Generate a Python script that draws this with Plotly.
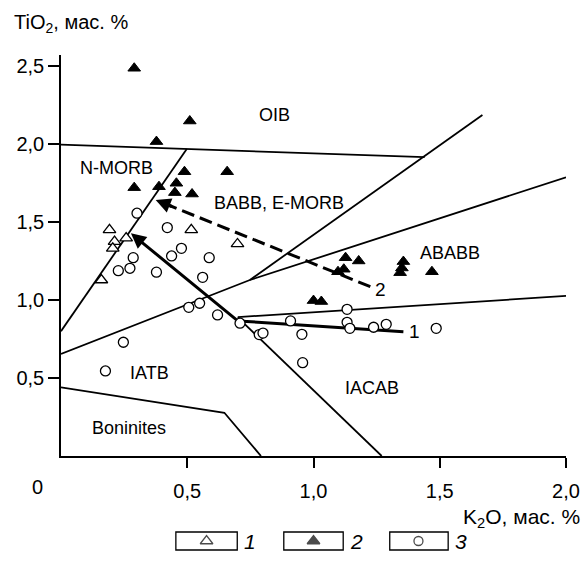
import plotly.graph_objects as go

# ---------------- data ----------------
# series 1: open triangles
s1_x = [0.192, 0.212, 0.205, 0.258, 0.160, 0.516, 0.699]
s1_y = [1.449, 1.374, 1.331, 1.396, 1.128, 1.449, 1.359]
# series 2: filled triangles
s2_x = [0.290, 0.378, 0.510, 0.290, 0.489, 0.658, 0.388, 0.457, 0.451, 0.519,
        1.127, 1.179, 1.097, 1.120, 1.356, 1.343, 1.350, 1.469, 1.000, 1.031]
s2_y = [2.485, 2.015, 2.147, 1.720, 1.822, 1.822, 1.726, 1.748, 1.688, 1.679,
        1.271, 1.250, 1.181, 1.197, 1.246, 1.175, 1.205, 1.181, 0.996, 0.990]
# series 3: open circles
s3_x = [0.301, 0.421, 0.477, 0.438, 0.286, 0.273, 0.227, 0.378, 0.587, 0.561,
        0.506, 0.549, 0.620, 0.709, 0.247, 0.176, 0.909, 0.785, 0.800, 0.954,
        0.957, 1.133, 1.133, 1.144, 1.238, 1.288, 1.486]
s3_y = [1.556, 1.464, 1.331, 1.282, 1.271, 1.203, 1.188, 1.178, 1.271, 1.145,
        0.953, 0.979, 0.904, 0.851, 0.729, 0.545, 0.866, 0.778, 0.788, 0.780,
        0.598, 0.940, 0.857, 0.818, 0.825, 0.844, 0.818]

# discrimination boundaries
oib_x, oib_y = [0.0, 1.44], [1.995, 1.915]
nmorb_x, nmorb_y = [0.0, 0.498], [0.80, 1.967]
line3_x, line3_y = [0.0, 0.748, 2.0], [0.654, 1.128, 1.786]
line4_x, line4_y = [0.748, 1.669], [1.128, 2.186]
iacab_top_x, iacab_top_y = [0.70, 2.0], [0.890, 1.026]
iacab_x, iacab_y = [0.70, 1.27], [0.888, 0.0]
bon_x, bon_y = [0.0, 0.647, 0.792], [0.44, 0.277, 0.0]

# trends
trend1_x, trend1_y = [1.356, 0.70, 0.277], [0.797, 0.866, 1.427]
trend2_x, trend2_y = [1.225, 0.375], [1.085, 1.641]

region_labels = ["OIB", "N-MORB", "BABB, E-MORB", "ABABB", "IATB", "IACAB", "Boninites"]
region_x = [0.846, 0.218, 0.863, 1.542, 0.352, 1.231, 0.268]
region_y = [2.186, 1.844, 1.620, 1.300, 0.535, 0.436, 0.177]

x_tickvals = [0.5, 1.0, 1.5, 2.0]
x_ticktext = ["0,5", "1,0", "1,5", "2,0"]
y_tickvals = [0.5, 1.0, 1.5, 2.0, 2.5]
y_ticktext = ["0,5", "1,0", "1,5", "2,0", "2,5"]

legend_labels = ["1", "2", "3"]

FONT = "Liberation Sans, Arial, sans-serif"
fig = go.Figure()

def add_line(xs, ys, width=1.8, dash=None):
    fig.add_trace(go.Scatter(x=xs, y=ys, mode="lines",
                             line=dict(color="black", width=width, dash=dash),
                             hoverinfo="skip", showlegend=False))

for xs, ys in [(oib_x, oib_y), (nmorb_x, nmorb_y), (line3_x, line3_y),
               (line4_x, line4_y), (iacab_top_x, iacab_top_y),
               (iacab_x, iacab_y), (bon_x, bon_y)]:
    add_line(xs, ys)

# trend 1 (solid thick)
add_line(trend1_x[:2], trend1_y[:2], width=3)
# trend 2 (dashed thick), stop just before the arrowhead
t2_end_x = trend2_x[1] + 0.03
t2_end_y = trend2_y[1] - 0.03 * 0.654
add_line([trend2_x[0], t2_end_x], [trend2_y[0], t2_end_y], width=3, dash="13px,6px")

fig.add_annotation(x=trend1_x[2], y=trend1_y[2], ax=trend1_x[1], ay=trend1_y[1],
                   xref="x", yref="y", axref="x", ayref="y", text="",
                   showarrow=True, arrowhead=2, arrowsize=1.0, arrowwidth=3,
                   arrowcolor="black", standoff=0)
fig.add_annotation(x=trend2_x[1], y=trend2_y[1],
                   ax=trend2_x[1] + 0.07, ay=trend2_y[1] - 0.07 * 0.654,
                   xref="x", yref="y", axref="x", ayref="y", text="",
                   showarrow=True, arrowhead=2, arrowsize=1.0, arrowwidth=3,
                   arrowcolor="black", standoff=0)

# data points
fig.add_trace(go.Scatter(x=s3_x, y=s3_y, mode="markers",
                         marker=dict(symbol="circle", size=10, color="white",
                                     line=dict(color="black", width=1.3)),
                         showlegend=False))
fig.add_trace(go.Scatter(x=s1_x, y=s1_y, mode="markers",
                         marker=dict(symbol="triangle-up", size=11, color="white",
                                     line=dict(color="black", width=1.3)),
                         showlegend=False))
fig.add_trace(go.Scatter(x=s2_x, y=s2_y, mode="markers",
                         marker=dict(symbol="triangle-up", size=11, color="black",
                                     line=dict(color="black", width=1)),
                         showlegend=False))

# region labels
for t, x, y in zip(region_labels, region_x, region_y):
    fig.add_annotation(x=x, y=y, text=t, showarrow=False,
                       xanchor="center", yanchor="middle",
                       font=dict(size=18, color="black", family=FONT))
# trend labels
fig.add_annotation(x=1.40, y=0.797, text="1", showarrow=False,
                   xanchor="center", yanchor="middle",
                   font=dict(size=19, color="black", family=FONT))
fig.add_annotation(x=1.264, y=1.064, text="2", showarrow=False,
                   xanchor="center", yanchor="middle",
                   font=dict(size=19, color="black", family=FONT))

# geometry (pixels): main plot x 61..571, y 456..55; paper bottom at 560
L, R, T, B = 61, 571, 55, 456
PB = 560
W = R - L
PH = PB - T
def px(xp):
    return (xp - L) / W
def py(yp):
    return (PB - yp) / PH

# axis titles and origin label
fig.add_annotation(xref="paper", yref="paper", x=px(12), y=py(24),
                   text="TiO<sub>2</sub>, мас. %", showarrow=False,
                   xanchor="left", yanchor="middle",
                   font=dict(size=20, color="black", family=FONT))
fig.add_annotation(xref="paper", yref="paper", x=px(587), y=py(518),
                   text="K<sub>2</sub>O, мас. %", showarrow=False,
                   xanchor="right", yanchor="middle",
                   font=dict(size=21, color="black", family=FONT))
fig.add_annotation(xref="paper", yref="paper", x=px(37), y=py(487),
                   text="0", showarrow=False,
                   xanchor="center", yanchor="middle",
                   font=dict(size=20, color="black", family=FONT))

# legend boxes
box_left = [177, 286, 393]
box_right = [239, 346, 452]
for i in range(3):
    fig.add_shape(type="rect", xref="paper", yref="paper", layer="below",
                  x0=px(box_left[i]), x1=px(box_right[i]), y0=py(550), y1=py(532),
                  line=dict(color="black", width=1.3), fillcolor="rgba(0,0,0,0)")
    fig.add_annotation(xref="paper", yref="paper", x=px(box_right[i] + 5), y=py(541),
                       text="<i>" + legend_labels[i] + "</i>", showarrow=False,
                       xanchor="left", yanchor="middle",
                       font=dict(size=21, color="black", family=FONT))

# legend markers on a hidden pixel-space axis pair
leg_marker_px = [208, 316, 422]
leg_row = [541, 541, 541]
leg_symbols = ["triangle-up", "triangle-up", "circle"]
leg_fill = ["white", "black", "white"]
leg_size = [11, 11, 9]
fig.add_trace(go.Scatter(x=leg_marker_px, y=leg_row, mode="markers",
                         xaxis="x2", yaxis="y2", cliponaxis=False,
                         marker=dict(symbol=leg_symbols, size=leg_size, color=leg_fill,
                                     line=dict(color="black", width=1.3)),
                         showlegend=False, hoverinfo="skip"))

fig.update_layout(
    xaxis=dict(range=[0, 2.0], tickvals=x_tickvals, ticktext=x_ticktext,
               showgrid=False, zeroline=False, showline=True, linecolor="black",
               linewidth=1.6, ticks="outside", ticklen=10, tickwidth=1.5,
               tickcolor="black", ticklabelstandoff=6, anchor="y", domain=[0, 1],
               tickfont=dict(size=20, color="black", family=FONT)),
    yaxis=dict(range=[0, 2.57], tickvals=y_tickvals, ticktext=y_ticktext,
               showgrid=False, zeroline=False, showline=True, linecolor="black",
               linewidth=1.6, ticks="outside", ticklen=11, tickwidth=1.5,
               tickcolor="black", anchor="x", domain=[py(B), 1],
               tickfont=dict(size=20, color="black", family=FONT)),
    xaxis2=dict(range=[L, R], domain=[0, 1], anchor="y2", visible=False,
                fixedrange=True),
    yaxis2=dict(range=[PB, 522], domain=[0, py(522)], anchor="x2", visible=False,
                fixedrange=True),
    width=587, height=567,
    margin=dict(l=L, r=587 - R, t=T, b=567 - PB),
    plot_bgcolor="white", paper_bgcolor="white",
    showlegend=False, font=dict(family=FONT, color="black"))

fig.write_html("out.html")
